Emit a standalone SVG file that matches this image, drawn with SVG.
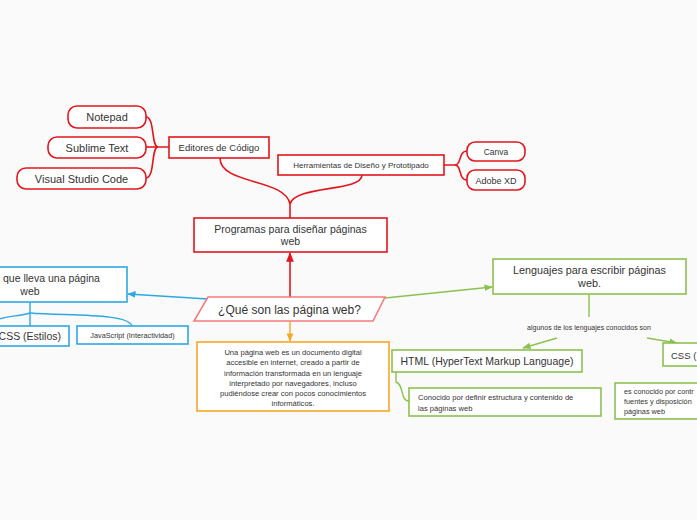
<svg xmlns="http://www.w3.org/2000/svg" width="697" height="520" viewBox="0 0 697 520">
<defs>
<style>
text{font-family:"Liberation Sans","DejaVu Sans",sans-serif;fill:#333;}
.c{text-anchor:middle;}
.red{fill:#fff;stroke:#e3161d;stroke-width:1.6;}
.blue{fill:#fff;stroke:#2ea8e3;stroke-width:1.6;}
.green{fill:#fff;stroke:#8cc152;stroke-width:1.6;}
.orange{fill:#fff;stroke:#f8a823;stroke-width:1.6;}
.lr{fill:none;stroke:#e3161d;stroke-width:1.6;}
.lb{fill:none;stroke:#2ea8e3;stroke-width:1.4;}
.lg{fill:none;stroke:#8cc152;stroke-width:1.4;}
.lo{fill:none;stroke:#f8a823;stroke-width:1.4;}
</style>
<marker id="ar" viewBox="0 0 10 10" refX="9" refY="5" markerWidth="6" markerHeight="6" orient="auto"><path d="M0,1 L10,5 L0,9 z" fill="#e3161d"/></marker>
<marker id="ab" viewBox="0 0 10 10" refX="9" refY="5" markerWidth="6" markerHeight="6" orient="auto"><path d="M0,1 L10,5 L0,9 z" fill="#2ea8e3"/></marker>
<marker id="ag" viewBox="0 0 10 10" refX="9" refY="5" markerWidth="6" markerHeight="6" orient="auto"><path d="M0,1 L10,5 L0,9 z" fill="#8cc152"/></marker>
<marker id="ao" viewBox="0 0 10 10" refX="9" refY="5" markerWidth="6" markerHeight="6" orient="auto"><path d="M0,1 L10,5 L0,9 z" fill="#f8a823"/></marker>
</defs>
<rect width="697" height="520" fill="#fafafa"/>

<g id="connectors">
<path class="lr" d="M169,147 L158,147 C151,147 155,117 146,117"/>
<path class="lr" d="M158,147 L146,147"/>
<path class="lr" d="M158,147 C151,147 155,178 146,178"/>
<path class="lr" d="M444,165 L455,165 C462,165 458,151 467,151"/>
<path class="lr" d="M455,165 C462,165 458,180 467,180"/>
<path class="lr" d="M220,158 C220,185 285,178 290,204 L290,218"/>
<path class="lr" d="M362,175 C362,192 295,185 290,204"/>
<path class="lr" d="M290,297 L290,253" marker-end="url(#ar)"/>
<path class="lo" d="M290,321 L290,341" marker-end="url(#ao)"/>
<path class="lb" d="M208,299 L128,294" marker-end="url(#ab)"/>
<path class="lb" d="M30,302 L30,313"/>
<path class="lb" d="M30,313 C30,318 30,320 30,326"/>
<path class="lb" d="M30,313 C20,316 8,316 -5,320"/>
<path class="lb" d="M30,313 C70,316 128,313 132,326"/>
<path class="lg" d="M385,298 L492,287" marker-end="url(#ag)"/>
<path class="lg" d="M589,294 L589,317"/>
<path class="lg" d="M557,338 L523,348" marker-end="url(#ag)"/>
<path class="lg" d="M647,338 L677,343" marker-end="url(#ag)"/>
<path class="lg" d="M396,372 L396,382 C404,384 400,401 409,401"/>
</g>

<g id="n-notepad"><rect class="red" x="68" y="106" width="78" height="22" rx="9"/><text class="c" x="107" y="121" font-size="11">Notepad</text></g>
<g id="n-sublime"><rect class="red" x="48" y="137" width="98" height="21" rx="9"/><text class="c" x="97" y="151.5" font-size="11">Sublime Text</text></g>
<g id="n-vscode"><rect class="red" x="17" y="168" width="129" height="21" rx="9"/><text class="c" x="81.5" y="182.5" font-size="11">Visual Studio Code</text></g>
<g id="n-editores"><rect class="red" x="169" y="137" width="100" height="21"/><text class="c" x="219" y="151" font-size="9.5">Editores de Código</text></g>
<g id="n-herramientas"><rect class="red" x="278" y="155" width="166" height="20"/><text class="c" x="361" y="168" font-size="8">Herramientas de Diseño y Prototipado</text></g>
<g id="n-canva"><rect class="red" x="467" y="142" width="58" height="19" rx="8"/><text class="c" x="496" y="155" font-size="8.5">Canva</text></g>
<g id="n-adobe"><rect class="red" x="467" y="170" width="58" height="20" rx="8"/><text class="c" x="496" y="183.5" font-size="9">Adobe XD</text></g>
<g id="n-programas"><rect class="red" x="194" y="218" width="193" height="34"/><text class="c" x="290.5" y="233" font-size="10.5">Programas para diseñar páginas</text><text class="c" x="290.5" y="245" font-size="10.5">web</text></g>

<g id="n-center"><polygon points="208,297 385,297 373,321 194,321" fill="#fff" stroke="#f47c7c" stroke-width="1.6"/><text class="c" x="289.5" y="313.5" font-size="12">¿Qué son las página web?</text></g>

<g id="n-desc"><rect class="orange" x="197" y="342" width="192" height="69"/>
<text class="c" x="293" y="355" font-size="7.6">Una página web es un documento digital</text>
<text class="c" x="293" y="365" font-size="7.6">accesible en internet, creado a partir de</text>
<text class="c" x="293" y="375.5" font-size="7.6">información transformada en un lenguaje</text>
<text class="c" x="293" y="386" font-size="7.6">interpretado por navegadores, incluso</text>
<text class="c" x="293" y="396" font-size="7.6">pudiéndose crear con pocos conocimientos</text>
<text class="c" x="293" y="406" font-size="7.6">informáticos.</text></g>

<g id="n-elementos"><rect class="blue" x="-70" y="267" width="197" height="35"/><text x="3" y="282" font-size="10.5">que lleva una página</text><text class="c" x="30" y="295" font-size="10.5">web</text></g>
<g id="n-css-left"><rect class="blue" x="-40" y="326" width="109" height="20"/><text x="61" y="340" font-size="10.5" text-anchor="end">CSS (Estilos)</text></g>
<g id="n-js"><rect class="blue" x="77" y="326" width="111" height="18"/><text class="c" x="132.5" y="337.5" font-size="7.3">JavaScript (Interactividad)</text></g>

<g id="n-lenguajes"><rect class="green" x="493" y="259" width="193" height="35"/><text class="c" x="589.5" y="274" font-size="10.8">Lenguajes para escribir páginas</text><text class="c" x="589.5" y="287" font-size="10.8">web.</text></g>
<g id="n-label"><text class="c" x="589" y="329.5" font-size="7">algunos de los lenguajes conocidos son</text></g>
<g id="n-html"><rect class="green" x="392" y="350" width="190" height="22"/><text class="c" x="487" y="364.5" font-size="10.5">HTML (HyperText Markup Language)</text></g>
<g id="n-html-desc"><rect class="green" x="409" y="388" width="192" height="28"/><text x="418" y="400" font-size="7.6">Conocido por definir estructura y contenido de</text><text x="418" y="410.5" font-size="7.6">las páginas web</text></g>
<g id="n-css-right"><rect class="green" x="663" y="343" width="60" height="23"/><text x="671" y="358.5" font-size="9.5">CSS (</text></g>
<g id="n-css-desc"><rect class="green" x="615" y="383" width="110" height="36"/><text x="624" y="394" font-size="7.3">es conocido por contr</text><text x="624" y="404" font-size="7.3">fuentes y disposición</text><text x="624" y="414" font-size="7.3">páginas web</text></g>
</svg>
